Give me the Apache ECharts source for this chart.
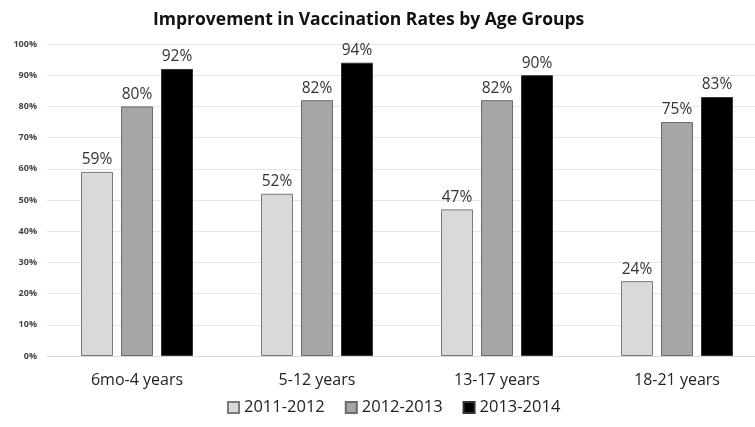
<!DOCTYPE html>
<html>
<head>
<meta charset="utf-8">
<title>Improvement in Vaccination Rates by Age Groups</title>
<script src="https://cdn.jsdelivr.net/npm/echarts@6/dist/echarts.min.js"></script>
<style>
  html, body { margin: 0; padding: 0; background: #fff; overflow: hidden; }
  /* chart is a bit wider than the window: the right edge of the plot is cut off in the original */
  #chart { width: 770px; height: 427px; }
</style>
</head>
<body>
<div id="chart"></div>
<script>
// age groups on the x axis
var ageGroups = ['6mo-4 years', '5-12 years', '13-17 years', '18-21 years'];
// vaccination rate (%) per school year
var rates2011 = [59, 52, 47, 24];
var rates2012 = [80, 82, 82, 75];
var rates2013 = [92, 94, 90, 83];
var seasons = ['2011-2012', '2012-2013', '2013-2014'];

var FONT = 'Open Sans';

// one bar series
var makeBar = function (name, data, color, border) {
    return {
        name: name,
        type: 'bar',
        data: data,
        barWidth: 32,
        barGap: '25%',
        itemStyle: {
            color: color,
            borderColor: border,
            borderWidth: 1
        },
        label: {
            show: true,
            position: 'top',
            distance: 4,
            formatter: '{c}%',
            fontFamily: FONT,
            fontSize: 15.5,
            color: '#333'
        }
    };
};

var option = {
    animation: false,
    backgroundColor: '#fff',
    title: {
        text: 'Improvement in Vaccination Rates by Age Groups',
        left: 148,
        top: 6,
        textStyle: {
            fontFamily: FONT,
            fontWeight: 'bold',
            fontSize: 17.5,
            color: '#111'
        }
    },
    legend: {
        data: seasons,
        left: 222,
        bottom: 6,
        itemWidth: 11,
        itemHeight: 11,
        itemGap: 20,
        icon: 'rect',
        textStyle: {
            fontFamily: FONT,
            fontSize: 16.5,
            color: '#222'
        }
    },
    grid: {
        left: 47,
        right: 3,
        top: 44,
        bottom: 71
    },
    xAxis: {
        type: 'category',
        data: ageGroups,
        axisTick: { show: false },
        axisLine: { lineStyle: { color: '#d9d9d9' } },
        axisLabel: {
            margin: 16,
            fontFamily: FONT,
            fontSize: 16,
            color: '#222'
        }
    },
    yAxis: {
        type: 'value',
        min: 0,
        max: 100,
        interval: 10,
        axisLine: { show: false },
        axisTick: { show: false },
        splitLine: { lineStyle: { color: '#e6e6e6' } },
        axisLabel: {
            formatter: '{value}%',
            margin: 10,
            fontFamily: FONT,
            fontSize: 9,
            fontWeight: 'bold',
            color: '#444'
        }
    },
    series: [
        makeBar(seasons[0], rates2011, '#d9d9d9', '#7a7a7a'),
        makeBar(seasons[1], rates2012, '#a6a6a6', '#6a6a6a'),
        makeBar(seasons[2], rates2013, '#000000', '#333333')
    ]
};

var chart = echarts.init(document.getElementById('chart'));
chart.setOption(option);
</script>
</body>
</html>
